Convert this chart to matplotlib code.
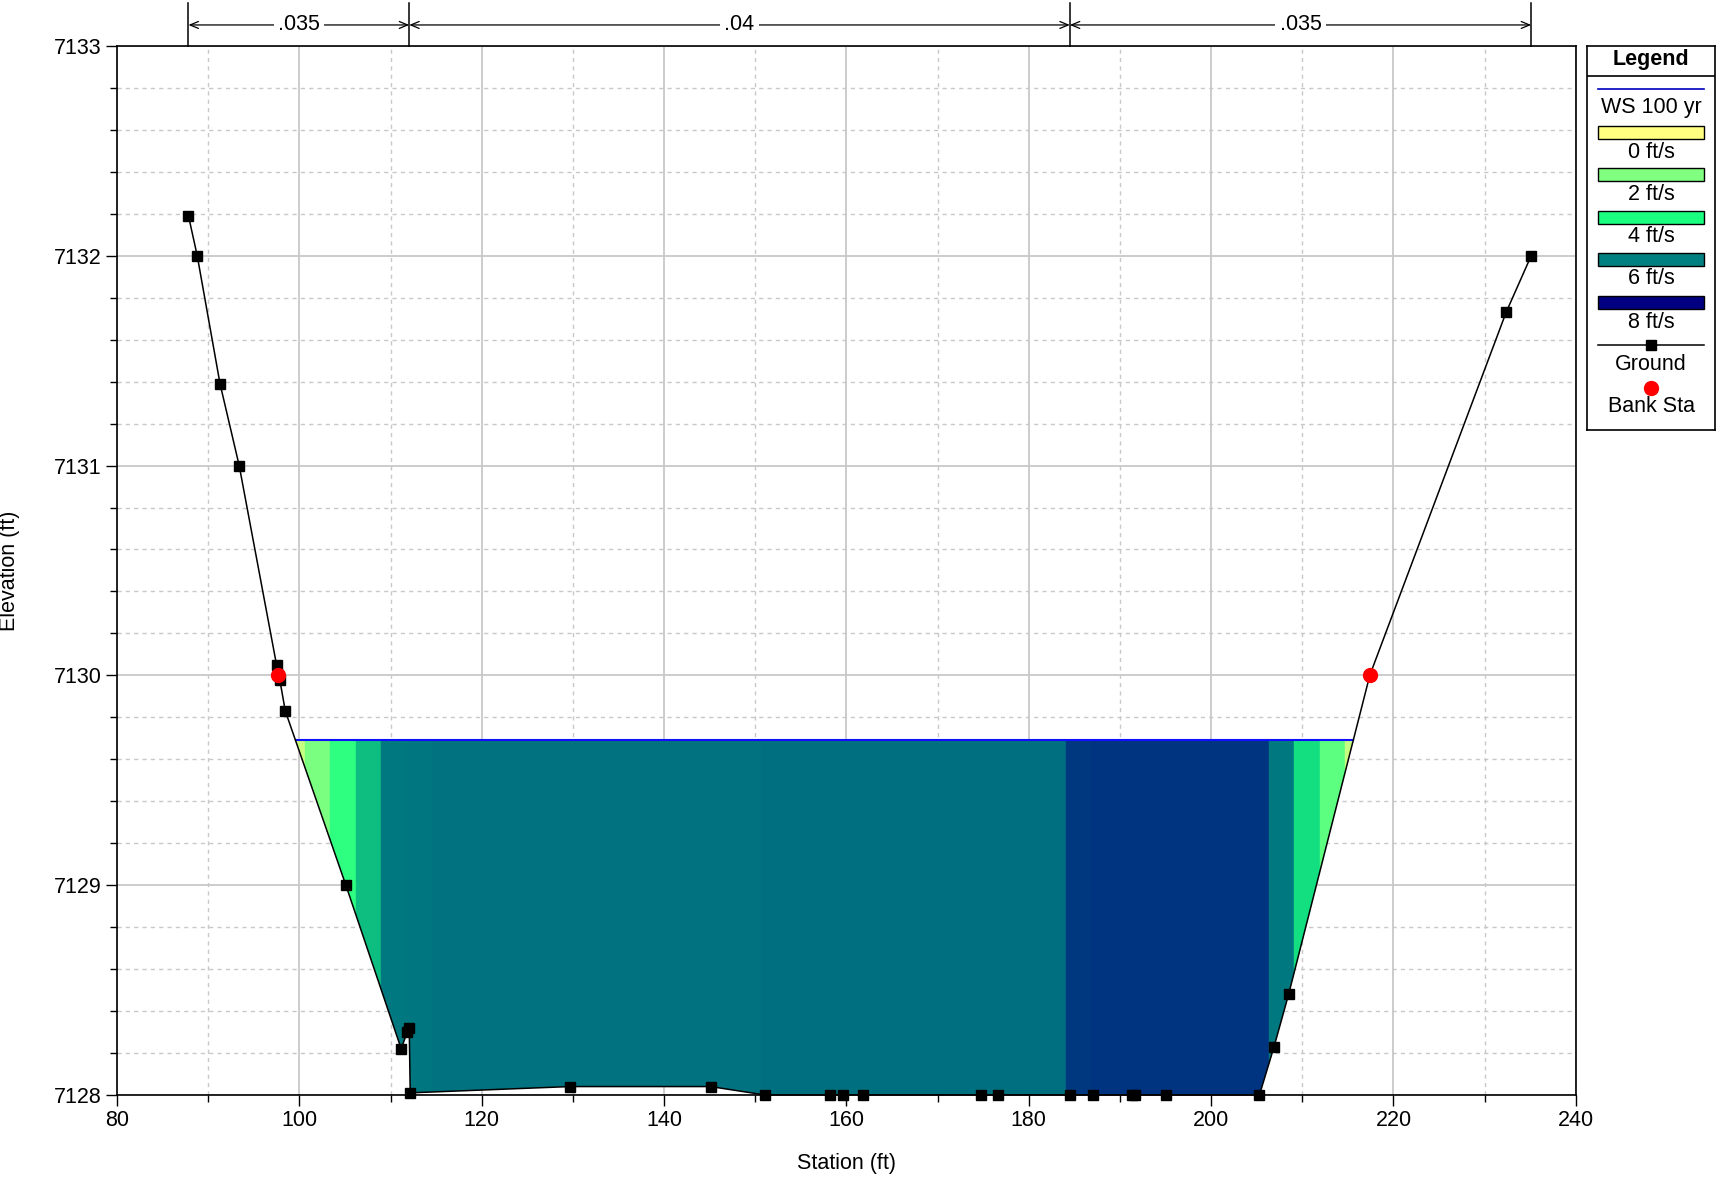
import matplotlib
matplotlib.use('Agg')
import matplotlib.pyplot as plt
import numpy as np
from matplotlib.colors import LinearSegmentedColormap, Normalize
from matplotlib.patches import Polygon, Rectangle
from matplotlib.ticker import MultipleLocator

plt.rcParams['font.family'] = ['Liberation Sans', 'DejaVu Sans']

# ground profile (station ft, elevation ft)
ground_sta = [87.84, 88.8, 91.3, 93.4, 97.5, 97.85, 98.46, 105.1, 111.17, 111.83,
              112.05, 112.16, 129.7, 145.1, 151.05, 158.2, 159.6, 161.8, 174.8, 176.6,
              184.5, 187.0, 191.3, 191.7, 195.0, 205.3, 206.9, 208.5, 217.4, 232.35, 235.1]
ground_elev = [7132.19, 7132.0, 7131.39, 7131.0, 7130.05, 7129.98, 7129.83, 7129.0, 7128.22, 7128.30,
               7128.32, 7128.01, 7128.04, 7128.04, 7128.0, 7128.0, 7128.0, 7128.0, 7128.0, 7128.0,
               7128.0, 7128.0, 7128.0, 7128.0, 7128.0, 7128.0, 7128.23, 7128.48, 7130.0, 7131.73, 7132.0]
marker_idx = [i for i in range(len(ground_sta)) if i != 28]  # bank point drawn as red dot

bank_sta = [97.7, 217.4]
bank_elev = [7130.0, 7130.0]

ws_elev = 7129.69

# velocity distribution slices
slice_edges = [99.58, 100.6, 103.4, 106.2, 109.0, 111.8, 114.5, 150.7, 184.06, 186.8,
               206.3, 209.1, 211.9, 214.65, 215.6]
slice_vel = [0.9, 2.1, 3.6, 5.0, 6.1, 6.15, 6.21, 6.23, 7.1, 7.17, 6.1, 4.5, 2.7, 0.9]

# manning's n regions
n_edges = [87.84, 112.05, 184.5, 235.1]
n_values = ['.035', '.04', '.035']

vel_levels = [0, 2, 4, 6, 8]
vel_colors = ['#ffff80', '#80ff80', '#1aff80', '#008080', '#000080']
cmap = LinearSegmentedColormap.from_list('vel', list(zip(np.array(vel_levels) / 8, vel_colors)))
norm = Normalize(0, 8)


def water_polygon(sta, elev, ws):
    sta = np.array(sta)
    elev = np.array(elev)
    wet = np.where(elev < ws)[0]
    i0, i1 = wet[0], wet[-1]
    xl = sta[i0 - 1] + (elev[i0 - 1] - ws) / (elev[i0 - 1] - elev[i0]) * (sta[i0] - sta[i0 - 1])
    xr = sta[i1] + (ws - elev[i1]) / (elev[i1 + 1] - elev[i1]) * (sta[i1 + 1] - sta[i1])
    pts = [(xl, ws)] + list(zip(sta[i0:i1 + 1], elev[i0:i1 + 1])) + [(xr, ws)]
    return np.array(pts), xl, xr


fig = plt.figure(figsize=(17.23, 11.78), dpi=100)
ax = fig.add_axes([0.0679, 0.0705, 0.8467, 0.8905])

ax.set_xlim(80, 240)
ax.set_ylim(7128, 7133)
ax.xaxis.set_major_locator(MultipleLocator(20))
ax.xaxis.set_minor_locator(MultipleLocator(10))
ax.yaxis.set_major_locator(MultipleLocator(1))
ax.yaxis.set_minor_locator(MultipleLocator(0.2))
ax.grid(which='major', color='#c8c8c8', lw=1.3, ls='-')
ax.grid(which='minor', color='#c8c8c8', lw=1.0, ls=(0, (3, 3)))
ax.set_axisbelow(True)
ax.tick_params(which='major', direction='out', length=8, width=1, labelsize=15.5, pad=3)
ax.tick_params(which='minor', direction='out', length=5, width=1)
for s in ax.spines.values():
    s.set_linewidth(1.2)
ax.yaxis.set_major_formatter(matplotlib.ticker.FormatStrFormatter('%d'))

# water area with velocity slices
pts, xl, xr = water_polygon(ground_sta, ground_elev, ws_elev)
clip = Polygon(pts, closed=True, facecolor='none', edgecolor='none')
ax.add_patch(clip)
widths = np.diff(slice_edges)
colors = [cmap(norm(v)) for v in slice_vel]
bars = ax.bar(slice_edges[:-1], ws_elev - 7127.9, width=widths, bottom=7127.9, align='edge',
              color=colors, edgecolor=colors, linewidth=0.3, zorder=2)
for b in bars:
    b.set_clip_path(clip)

ax.plot([xl, xr], [ws_elev, ws_elev], color='#1010ff', lw=1.5, zorder=3)

gs = np.array(ground_sta)
ge = np.array(ground_elev)
ax.plot(gs, ge, color='black', lw=1.1, zorder=4, clip_on=False)
ax.plot(gs[marker_idx], ge[marker_idx], ls='none', marker='s', ms=6.5, color='black',
        zorder=5, clip_on=False)
ax.plot(bank_sta, bank_elev, ls='none', marker='o', ms=10, color='red', zorder=6)

ax.set_xlabel('Station (ft)', fontsize=15.5)
ax.set_ylabel('Elevation (ft)', fontsize=15.5)
ax.xaxis.set_label_coords(0.5, -0.055)
ax.yaxis.set_label_coords(-0.0665, 0.5)

# manning's n annotations above the plot
trans = ax.get_xaxis_transform()
for x in n_edges:
    ax.plot([x, x], [1.0, 1.041], color='black', lw=1.1, transform=trans, clip_on=False)
for i, label in enumerate(n_values):
    a, b = n_edges[i], n_edges[i + 1]
    ax.annotate('', xy=(a, 1.020), xytext=(b, 1.020), xycoords=trans, textcoords=trans,
                arrowprops=dict(arrowstyle='<->,head_length=0.6,head_width=0.25', color='black',
                                lw=0.9, shrinkA=0, shrinkB=0), annotation_clip=False)
    ax.text((a + b) / 2, 1.020, label, transform=trans, ha='center', va='center', fontsize=15.5,
            bbox=dict(facecolor='white', edgecolor='none', pad=3), clip_on=False)

# legend box (pixel coordinates inside its own axes)
lg = fig.add_axes([1587 / 1723, 1 - 430 / 1178, 128 / 1723, 384 / 1178])
lg.set_xlim(1587, 1715)
lg.set_ylim(430, 46)
lg.set_xticks([])
lg.set_yticks([])
for s in lg.spines.values():
    s.set_linewidth(1.2)
cx = 1651
lg.text(cx, 59, 'Legend', ha='center', va='center', fontsize=15.5, fontweight='bold')
lg.plot([1587, 1715], [76, 76], color='black', lw=1.2)
lg.plot([1598, 1704], [89, 89], color='#0000c0', lw=1.2)
lg.text(cx, 108, 'WS 100 yr', ha='center', va='center', fontsize=15.5)
rect_tops = [126, 168, 211, 253, 296]
for top, lvl, col in zip(rect_tops, vel_levels, vel_colors):
    lg.add_patch(Rectangle((1598, top), 106, 12.5, facecolor=col, edgecolor='black', lw=1))
    lg.text(cx, top + 26, '%d ft/s' % lvl, ha='center', va='center', fontsize=15.5)
lg.plot([1598, 1704], [345, 345], color='black', lw=1.1)
lg.plot([cx], [345], marker='s', ms=6.5, color='black')
lg.text(cx, 364, 'Ground', ha='center', va='center', fontsize=15.5)
lg.plot([cx], [388], marker='o', ms=10, color='red')
lg.text(cx, 406, 'Bank Sta', ha='center', va='center', fontsize=15.5)

fig.savefig('out.png', dpi=100)
